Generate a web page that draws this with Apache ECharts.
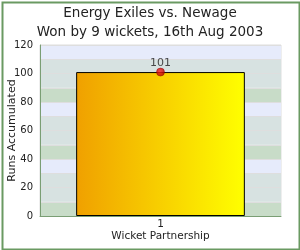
<!DOCTYPE html>
<html><head><meta charset="utf-8">
<script src="https://cdn.jsdelivr.net/npm/echarts@6/dist/echarts.min.js"></script>
<style>html,body{margin:0;padding:0;background:#fff}#c{width:300px;height:250px}</style>
</head><body><div id="c"></div>
<script>
const titleLines = ['Energy Exiles vs. Newage', 'Won by 9 wickets, 16th Aug 2003'];
const categories = ['1'];
const runs = [101];
const yTickLabels = ['0', '20', '40', '60', '80', '100', '120'];
const xName = 'Wicket Partnership';
const yName = 'Runs Accumulated';

const chart = echarts.init(document.getElementById('c'), null, {renderer: 'canvas'});
const font = 'DejaVu Sans';
chart.setOption({
  animation: false,
  backgroundColor: '#ffffff',
  title: [
    {text: titleLines[0], left: 'center', top: 1, textStyle: {fontFamily: font, fontSize: 13.5, fontWeight: 'normal', color: '#222'}},
    {text: titleLines[1], left: 'center', top: 20, textStyle: {fontFamily: font, fontSize: 13.5, fontWeight: 'normal', color: '#222'}}
  ],
  graphic: [{type: 'rect', left: 0, top: 0, shape: {x: 1, y: 1, width: 297, height: 247}, style: {fill: 'none', stroke: '#6a9a62', lineWidth: 2}, z: 100}],
  grid: {left: 40, right: 19, top: 45, bottom: 34, outerBoundsMode: 'none', containLabel: false, show: true, borderColor: '#dddddd', borderWidth: 1},
  xAxis: {
    type: 'category', data: categories,
    name: xName, nameLocation: 'middle', nameGap: 15, nameMoveOverlap: false,
    nameTextStyle: {fontFamily: font, fontSize: 10.5, color: '#222'},
    axisLine: {lineStyle: {color: '#7a9e74'}},
    axisTick: {show: false},
    axisLabel: {fontFamily: font, fontSize: 10.5, color: '#222', margin: 3}
  },
  yAxis: {
    type: 'value', min: 0, max: 120, interval: 10,
    name: yName, nameLocation: 'middle', nameGap: 22, nameMoveOverlap: false,
    nameTextStyle: {fontFamily: font, fontSize: 11, color: '#222'},
    axisLine: {show: true, lineStyle: {color: '#7a9e74'}},
    axisTick: {show: false},
    axisLabel: {fontFamily: font, fontSize: 10, color: '#222', margin: 7,
      formatter: v => yTickLabels.indexOf(String(v)) >= 0 ? String(v) : ''},
    splitLine: {show: true, lineStyle: {color: '#dedede', width: 1}},
    splitArea: {show: true, areaStyle: {color: ['#c8dcc8', '#d7e2e1', '#d7e2e1', '#e6ebfb']}}
  },
  series: [
    {
      type: 'bar', data: runs, barWidth: '70%',
      itemStyle: {
        borderColor: '#000', borderWidth: 1,
        color: new echarts.graphic.LinearGradient(0, 0, 1, 0, [{offset: 0, color: '#f0a000'}, {offset: 1, color: '#ffff00'}])
      }
    },
    {
      type: 'scatter', data: runs, symbol: 'circle', symbolSize: 8, z: 10,
      itemStyle: {color: new echarts.graphic.RadialGradient(0.4, 0.4, 0.6, [{offset: 0, color: '#ff2020'}, {offset: 1, color: '#b00000'}]), borderColor: '#880000', borderWidth: 0.5},
      label: {show: true, position: 'top', distance: -1, fontFamily: font, fontSize: 11, color: '#222'}
    }
  ]
});
</script></body></html>
